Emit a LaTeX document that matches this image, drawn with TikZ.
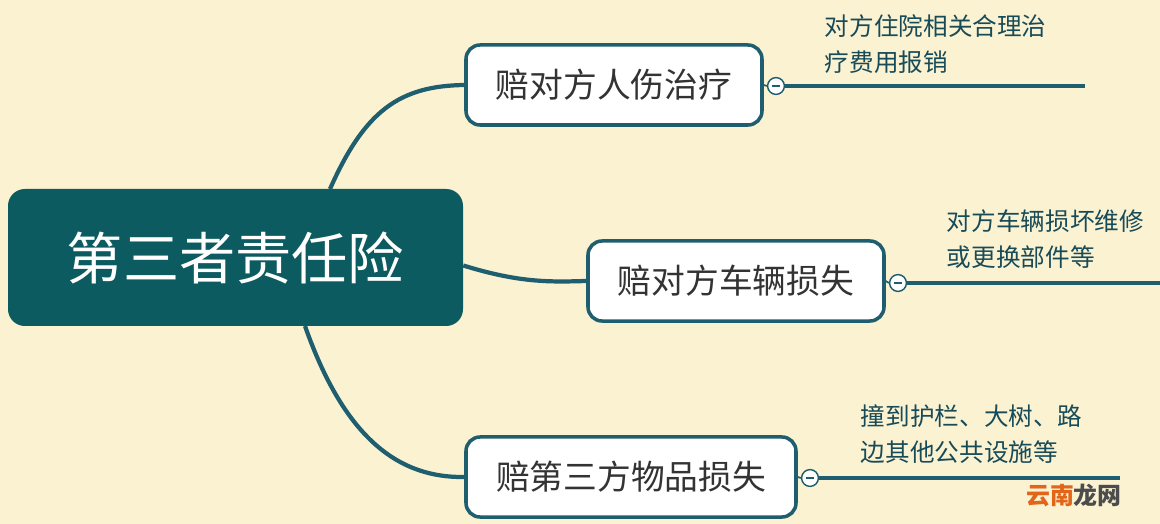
\documentclass[tikz,border=0pt]{standalone}
\usepackage{fontspec}
\newfontfamily\cjk{Noto Sans CJK SC}
\definecolor{bgyel}{HTML}{FBF2D2}
\definecolor{teal}{HTML}{0C5B60}
\definecolor{tealline}{HTML}{1E5E6E}
\definecolor{wmorange}{HTML}{E2661A}
\tikzset{
  topic/.style={rounded corners=10pt,fill=white,draw=tealline,line width=2.5pt,minimum height=2cm,font=\cjk\fontsize{24}{28}\selectfont,text=black!80},
  link/.style={draw=tealline,line width=3pt},
  leaf/.style={anchor=north west,align=left,font=\cjk\fontsize{17.5}{25.5}\selectfont,text=tealline!80!black},
  fold/.style={circle,draw=tealline,fill=white,line width=1pt,inner sep=0pt,minimum size=0.42cm}
}
\begin{document}
\begin{tikzpicture}[x=0.025cm,y=-0.025cm]
\fill[bgyel] (0,0) rectangle (1160,524);
\useasboundingbox (0,0) rectangle (1160,524);

\node[rounded corners=12pt,fill=teal,minimum width=455*0.025cm,minimum height=137*0.025cm,text=white,font=\cjk\fontsize{40}{44}\selectfont] (root) at (235.5,257.5) {第三者责任险};

\node[topic,minimum width=296*0.025cm] (injury) at (614,85) {赔对方人伤治疗};
\node[topic,minimum width=296*0.025cm] (vehicle) at (736,281) {赔对方车辆损失};
\node[topic,minimum width=330*0.025cm] (goods) at (631,477) {赔第三方物品损失};

% connectors from the main topic
\draw[link] (330,189) .. controls (365,110) and (400,86) .. (injury.west);
\draw[link] (root.east) ++(0,8) .. controls (520,283) and (550,282) .. (vehicle.west);
\draw[link] (305,326) .. controls (345,440) and (400,478) .. (goods.west);

% leaves
\node[fold] (f1) at (776,86) {};
\node[fold] (f2) at (898,283) {};
\node[fold] (f3) at (810,478) {};
\draw[link,line width=1.2pt] (injury.east) -- (f1.west);
\draw[link,line width=1.2pt] (vehicle.east) -- (f2.west);
\draw[link,line width=1.2pt] (goods.east) -- (f3.west);
\foreach \f in {f1,f2,f3} \draw[tealline,line width=0.8pt] ([xshift=-2.5pt]\f.center) -- ([xshift=2.5pt]\f.center);
\coordinate (e1) at (1085,86);
\coordinate (e2) at (1160,283);
\coordinate (e3) at (1120,478);
\draw[link] (f1.east) -- (e1);
\draw[link] (f2.east) -- (e2);
\draw[link] (f3.east) -- (e3);

\node[leaf] (t1) at (820,10) {对方住院相关合理治\\疗费用报销};
\node[leaf] (t2) at (942,205) {对方车辆损坏维修\\或更换部件等};
\node[leaf] (t3) at (856,400) {撞到护栏、大树、路\\边其他公共设施等};

\node[anchor=north east,font=\cjk\bfseries\fontsize{17}{18}\selectfont,inner sep=0pt] (wm) at (1122,484) {\textcolor{wmorange}{云南}\textcolor{black!70}{龙网}};
\end{tikzpicture}
\end{document}
